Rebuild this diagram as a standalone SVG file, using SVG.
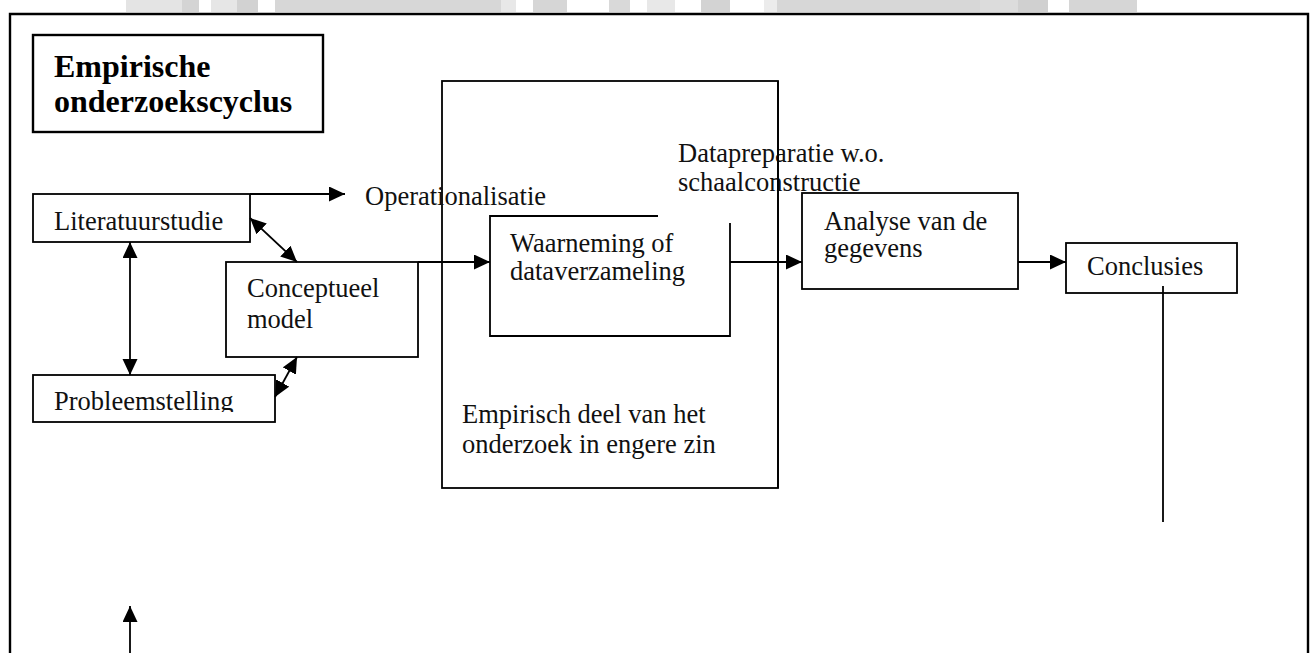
<svg xmlns="http://www.w3.org/2000/svg" width="1312" height="653" viewBox="0 0 1312 653">
  <defs>
    <marker id="arrow" markerUnits="userSpaceOnUse" markerWidth="17" markerHeight="16" refX="16" refY="7.5" orient="auto-start-reverse">
      <path d="M0,0 L16,7.5 L0,15 z" fill="#000"/>
    </marker>
    <clipPath id="clipProb">
      <rect x="33" y="375" width="242" height="37"/>
    </clipPath>
  </defs>
  <style>
    .box { fill: #fff; stroke: #000; stroke-width: 1.8; }
    .frame { fill: none; stroke: #000; stroke-width: 2.4; }
    .lbl { font-family: "Liberation Serif", "Times New Roman", serif; font-size: 26.5px; fill: #111; }
    .title { font-family: "Liberation Serif", "Times New Roman", serif; font-size: 32px; font-weight: bold; fill: #000; }
    .conn { fill: none; stroke: #000; stroke-width: 1.8; }
    .band { stroke: none; }
  </style>

  <rect width="1312" height="653" fill="#fff"/>

  <!-- grey band along the top edge -->
  <g id="top-band" class="band">
    <rect x="126" y="0" width="56" height="12" fill="#e4e4e4"/>
    <rect x="182" y="0" width="17" height="12" fill="#d4d4d4"/>
    <rect x="211" y="0" width="26" height="12" fill="#e6e6e6"/>
    <rect x="237" y="0" width="21" height="12" fill="#d2d2d2"/>
    <rect x="275" y="0" width="226" height="12" fill="#d7d7d7"/>
    <rect x="501" y="0" width="15" height="12" fill="#e8e8e8"/>
    <rect x="533" y="0" width="34" height="12" fill="#d6d6d6"/>
    <rect x="609" y="0" width="21" height="12" fill="#d9d9d9"/>
    <rect x="647" y="0" width="28" height="12" fill="#e8e8e8"/>
    <rect x="701" y="0" width="29" height="12" fill="#d3d3d3"/>
    <rect x="764" y="0" width="13" height="12" fill="#ececec"/>
    <rect x="777" y="0" width="203" height="12" fill="#d7d7d7"/>
    <rect x="980" y="0" width="38" height="12" fill="#dcdcdc"/>
    <rect x="1018" y="0" width="30" height="12" fill="#d0d0d0"/>
    <rect x="1069" y="0" width="68" height="12" fill="#d6d6d6"/>
  </g>

  <!-- outer frame, open at the bottom -->
  <path id="frame" class="frame" d="M10,653 V14 H1308 V653"/>

  <g id="title">
    <rect x="33" y="35" width="290" height="97" fill="#fff" stroke="#000" stroke-width="2.4"/>
    <text class="title" x="54" y="77">Empirische</text>
    <text class="title" x="54" y="112">onderzoekscyclus</text>
  </g>

  <g id="empirisch-deel">
    <rect class="box" x="442" y="81" width="336" height="407"/>
    <text class="lbl" x="462" y="423">Empirisch deel van het</text>
    <text class="lbl" x="462" y="453">onderzoek in engere zin</text>
  </g>

  <g id="literatuurstudie">
    <rect class="box" x="33" y="194" width="217" height="48"/>
    <text class="lbl" x="54" y="230">Literatuurstudie</text>
  </g>

  <g id="probleemstelling">
    <rect class="box" x="33" y="375" width="242" height="47"/>
    <text class="lbl" x="54" y="410" clip-path="url(#clipProb)">Probleemstelling</text>
  </g>

  <g id="conceptueel-model">
    <rect class="box" x="226" y="262" width="192" height="95"/>
    <text class="lbl" x="247" y="297">Conceptueel</text>
    <text class="lbl" x="247" y="328">model</text>
  </g>

  <g id="operationalisatie">
    <text class="lbl" x="365" y="205">Operationalisatie</text>
  </g>

  <g id="datapreparatie">
    <text class="lbl" x="678" y="162">Datapreparatie w.o.</text>
    <text class="lbl" x="678" y="191">schaalconstructie</text>
  </g>

  <g id="waarneming">
    <path d="M730,223 V336 H490 V216 H658" fill="none" stroke="#000" stroke-width="1.8"/>
    <text class="lbl" x="510" y="252">Waarneming of</text>
    <text class="lbl" x="510" y="280">dataverzameling</text>
  </g>

  <!-- right edge of the empirical block drawn over the label -->
  <line x1="778" y1="81" x2="778" y2="488" stroke="#000" stroke-width="1.8"/>

  <g id="analyse">
    <rect class="box" x="802" y="193" width="216" height="96"/>
    <text class="lbl" x="824" y="230">Analyse van de</text>
    <text class="lbl" x="824" y="257">gegevens</text>
  </g>

  <g id="conclusies">
    <rect class="box" x="1066" y="243" width="171" height="50"/>
    <text class="lbl" x="1087" y="275">Conclusies</text>
  </g>

  <g id="connectors" class="conn">
    <path d="M250,194 H345" marker-end="url(#arrow)"/>
    <path d="M130,242 V375" marker-start="url(#arrow)" marker-end="url(#arrow)"/>
    <path d="M250,218 L297,262" marker-start="url(#arrow)" marker-end="url(#arrow)"/>
    <path d="M297,357 L275,397" marker-start="url(#arrow)" marker-end="url(#arrow)"/>
    <path d="M418,262 H490" marker-end="url(#arrow)"/>
    <path d="M730,262 H802" marker-end="url(#arrow)"/>
    <path d="M1018,262 H1066" marker-end="url(#arrow)"/>
    <path d="M1163,286 V522"/>
    <path d="M130,653 V606" marker-end="url(#arrow)"/>
  </g>
</svg>
